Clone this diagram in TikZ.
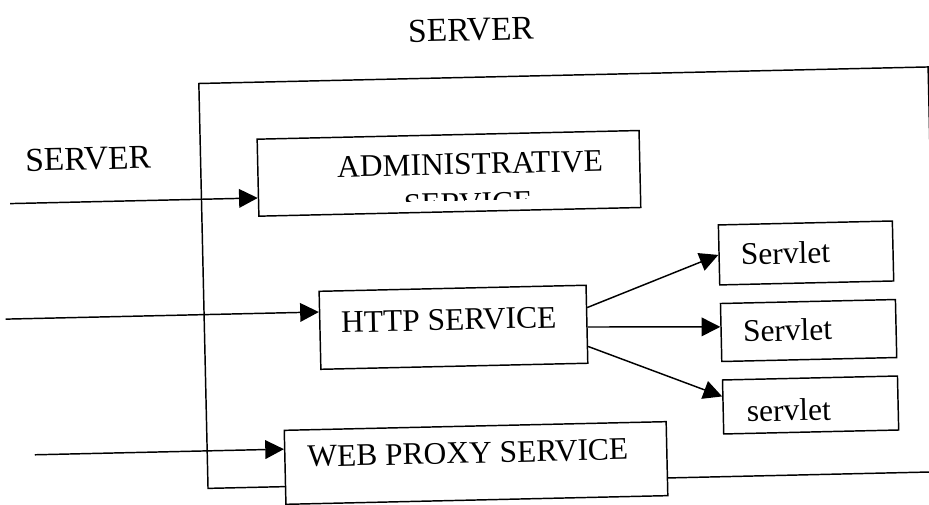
\documentclass[tikz,border=0pt]{standalone}
\usepackage{fontspec}
\setmainfont{Liberation Serif}
\usetikzlibrary{arrows.meta,calc}

\begin{document}
\begin{tikzpicture}[x=0.75pt,y=-0.75pt,
  box/.style={draw, line width=1.1pt, fill=white, rectangle, inner sep=0pt},
  txt/.style={inner sep=0pt, font=\fontsize{23.6pt}{28pt}\selectfont},
  bigtxt/.style={inner sep=0pt, font=\fontsize{25.1pt}{30pt}\selectfont},
  arr/.style={line width=1.1pt, -{Triangle[length=14pt,width=14pt]}}]
\useasboundingbox (0,0) rectangle (929,504);
\clip (0,0) rectangle (929,504);
\fill[white] (0,0) rectangle (929,504);

\begin{scope}[rotate around={1.3:(465,285)}, transform shape]
  % titles
  \node[bigtxt] (title) at (476.8,30.1) {SERVER};
  \node[bigtxt] (client) at (91,150.4) {SERVER};

  % outer server frame
  \node[box, fill=none, minimum width=547.1pt, minimum height=303.75pt] (server) at (568.2,280) {};

  % services
  \node[box, minimum width=286.5pt, minimum height=57.75pt] (admin) at (451.5,173) {};
  \begin{scope}
    \clip (262,136) rectangle (641,200);
    \node[txt, anchor=base] (admin-l1) at (472.7,174.5) {ADMINISTRATIVE};
    \node[txt, anchor=base] (admin-l2) at (470,214) {SERVICE};
  \end{scope}

  \node[box, minimum width=200.25pt, minimum height=58.5pt] (http) at (452.5,327) {};
  \node[txt] (http-t) at (448,319.6) {HTTP SERVICE};

  \node[box, minimum width=286.5pt, minimum height=55.5pt] (web) at (472,463.2) {};
  \node[txt] (web-t) at (464,453) {WEB PROXY SERVICE};

  % servlets
  \node[box, minimum width=130.5pt, minimum height=45pt] (s1) at (806.7,260.7) {};
  \node[txt] (s1-t) at (786.2,260.3) {Servlet};
  \node[box, minimum width=131.25pt, minimum height=43.5pt] (s2) at (807.5,338.3) {};
  \node[txt] (s2-t) at (786.5,337.3) {Servlet};
  \node[box, minimum width=131.25pt, minimum height=40.5pt] (s3) at (807.8,412.8) {};
  \node[txt] (s3-t) at (786,417.4) {servlet};

  % incoming requests
  \coordinate (in1) at (12,193.3);
  \coordinate (in2) at (5,308.7);
  \coordinate (in3) at (31,445);
  \draw[arr] (in1) -- (admin.west |- in1);
  \draw[arr] (in2) -- (http.west |- in2);
  \draw[arr] (in3) -- (web.west |- in3);

  % dispatch to servlets
  \draw[arr] ($(http.north east)!0.29!(http.south east)$) -- (s1.west);
  \draw[arr] ($(http.north east)!0.535!(http.south east)$) -- ($(s2.north west)!0.405!(s2.south west)$);
  \draw[arr] ($(http.north east)!0.78!(http.south east)$) -- ($(s3.north west)!0.31!(s3.south west)$);
\end{scope}
\end{tikzpicture}
\end{document}
